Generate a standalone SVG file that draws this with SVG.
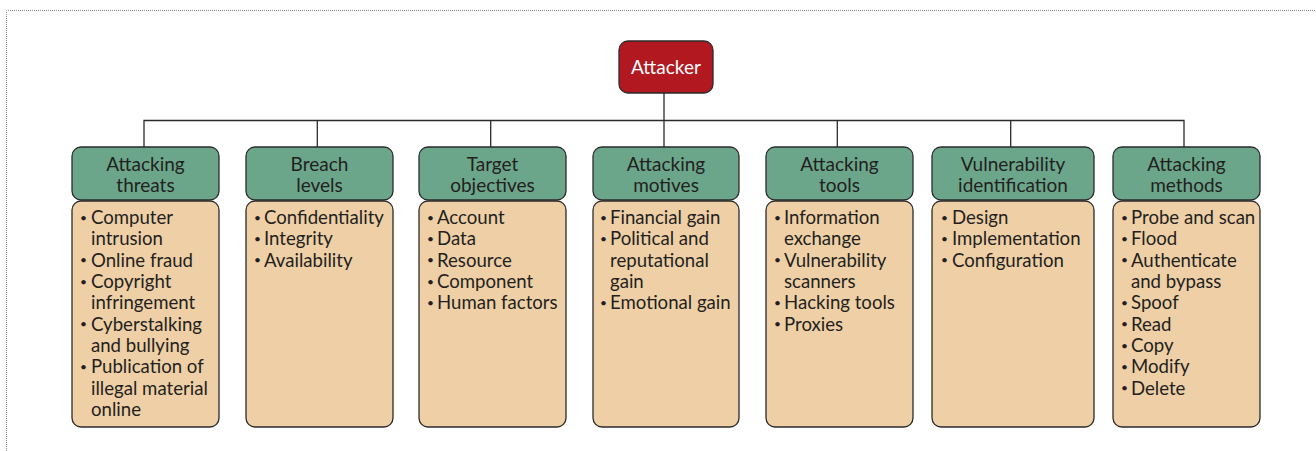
<svg xmlns="http://www.w3.org/2000/svg" width="1316" height="451" viewBox="0 0 1316 451">
<style>
.frame{fill:none;stroke:#8a8a8a;stroke-width:1;stroke-dasharray:1 1}
.conn{fill:none;stroke:#2b2b2b;stroke-width:1.3}
.root{fill:#b2181f;stroke:#2b2b2b;stroke-width:1.3}
.hdr{fill:#6ba68b;stroke:#2b2b2b;stroke-width:1.3}
.body{fill:#eecfa6;stroke:#2b2b2b;stroke-width:1.3}
text{font-family:Lato,"Noto Sans",sans-serif;font-size:18.6px;fill:#231f20}
.rt{fill:#ffffff;font-size:19px}
.ht{text-anchor:middle;font-size:19px}
.b{font-size:12px}
</style>
<rect width="1316" height="451" fill="#ffffff"/>
<path class="frame" d="M6.5 451 V10.5 H1316"/>
<g id="connectors">
<path class="conn" d="M664 93 V120.5"/>
<path class="conn" d="M144 147 V120.5 H1184 V147"/>
<path class="conn" d="M317.3 120.5 V147"/>
<path class="conn" d="M490.7 120.5 V147"/>
<path class="conn" d="M664 120.5 V147"/>
<path class="conn" d="M837.3 120.5 V147"/>
<path class="conn" d="M1010.7 120.5 V147"/>
</g>
<g id="attacker">
<rect class="root" x="619" y="41" width="94" height="52" rx="9"/>
<text class="rt" x="666" y="74" text-anchor="middle">Attacker</text>
</g>
<g id="attacking-threats">
<rect class="hdr" x="72" y="147" width="147" height="53" rx="9"/>
<text class="ht" x="145.5" y="171">Attacking</text>
<text class="ht" x="145.5" y="192">threats</text>
<rect class="body" x="72" y="201" width="147" height="226" rx="9"/>
<text class="b" x="80" y="221.5">•</text><text x="91" y="224">Computer</text>
<text x="91" y="245.3">intrusion</text>
<text class="b" x="80" y="264.1">•</text><text x="91" y="266.6">Online fraud</text>
<text class="b" x="80" y="285.5">•</text><text x="91" y="288">Copyright</text>
<text x="91" y="309.3">infringement</text>
<text class="b" x="80" y="328.1">•</text><text x="91" y="330.6">Cyberstalking</text>
<text x="91" y="352">and bullying</text>
<text class="b" x="80" y="370.8">•</text><text x="91" y="373.3">Publication of</text>
<text x="91" y="394.6">illegal material</text>
<text x="91" y="416">online</text>
</g>
<g id="breach-levels">
<rect class="hdr" x="246" y="147" width="147" height="53" rx="9"/>
<text class="ht" x="319.5" y="171">Breach</text>
<text class="ht" x="319.5" y="192">levels</text>
<rect class="body" x="246" y="201" width="147" height="226" rx="9"/>
<text class="b" x="254" y="221.5">•</text><text x="264" y="224">Confidentiality</text>
<text class="b" x="254" y="242.8">•</text><text x="264" y="245.3">Integrity</text>
<text class="b" x="254" y="264.1">•</text><text x="264" y="266.6">Availability</text>
</g>
<g id="target-objectives">
<rect class="hdr" x="419" y="147" width="147" height="53" rx="9"/>
<text class="ht" x="492.5" y="171">Target</text>
<text class="ht" x="492.5" y="192">objectives</text>
<rect class="body" x="419" y="201" width="147" height="226" rx="9"/>
<text class="b" x="427" y="221.5">•</text><text x="437" y="224">Account</text>
<text class="b" x="427" y="242.8">•</text><text x="437" y="245.3">Data</text>
<text class="b" x="427" y="264.1">•</text><text x="437" y="266.6">Resource</text>
<text class="b" x="427" y="285.5">•</text><text x="437" y="288">Component</text>
<text class="b" x="427" y="306.8">•</text><text x="437" y="309.3">Human factors</text>
</g>
<g id="attacking-motives">
<rect class="hdr" x="593" y="147" width="146" height="53" rx="9"/>
<text class="ht" x="666" y="171">Attacking</text>
<text class="ht" x="666" y="192">motives</text>
<rect class="body" x="593" y="201" width="146" height="226" rx="9"/>
<text class="b" x="600" y="221.5">•</text><text x="610" y="224">Financial gain</text>
<text class="b" x="600" y="242.8">•</text><text x="610" y="245.3">Political and</text>
<text x="610" y="266.6">reputational</text>
<text x="610" y="288">gain</text>
<text class="b" x="600" y="306.8">•</text><text x="610" y="309.3">Emotional gain</text>
</g>
<g id="attacking-tools">
<rect class="hdr" x="766" y="147" width="147" height="53" rx="9"/>
<text class="ht" x="839.5" y="171">Attacking</text>
<text class="ht" x="839.5" y="192">tools</text>
<rect class="body" x="766" y="201" width="147" height="226" rx="9"/>
<text class="b" x="774" y="221.5">•</text><text x="784" y="224">Information</text>
<text x="784" y="245.3">exchange</text>
<text class="b" x="774" y="264.1">•</text><text x="784" y="266.6">Vulnerability</text>
<text x="784" y="288">scanners</text>
<text class="b" x="774" y="306.8">•</text><text x="784" y="309.3">Hacking tools</text>
<text class="b" x="774" y="328.1">•</text><text x="784" y="330.6">Proxies</text>
</g>
<g id="vulnerability-identification">
<rect class="hdr" x="932" y="147" width="162" height="53" rx="9"/>
<text class="ht" x="1013" y="171">Vulnerability</text>
<text class="ht" x="1013" y="192">identification</text>
<rect class="body" x="932" y="201" width="162" height="226" rx="9"/>
<text class="b" x="941" y="221.5">•</text><text x="952" y="224">Design</text>
<text class="b" x="941" y="242.8">•</text><text x="952" y="245.3">Implementation</text>
<text class="b" x="941" y="264.1">•</text><text x="952" y="266.6">Configuration</text>
</g>
<g id="attacking-methods">
<rect class="hdr" x="1113" y="147" width="147" height="53" rx="9"/>
<text class="ht" x="1186.5" y="171">Attacking</text>
<text class="ht" x="1186.5" y="192">methods</text>
<rect class="body" x="1113" y="201" width="147" height="226" rx="9"/>
<text class="b" x="1121" y="221.5">•</text><text x="1131" y="224">Probe and scan</text>
<text class="b" x="1121" y="242.8">•</text><text x="1131" y="245.3">Flood</text>
<text class="b" x="1121" y="264.1">•</text><text x="1131" y="266.6">Authenticate</text>
<text x="1131" y="288">and bypass</text>
<text class="b" x="1121" y="306.8">•</text><text x="1131" y="309.3">Spoof</text>
<text class="b" x="1121" y="328.1">•</text><text x="1131" y="330.6">Read</text>
<text class="b" x="1121" y="349.5">•</text><text x="1131" y="352">Copy</text>
<text class="b" x="1121" y="370.8">•</text><text x="1131" y="373.3">Modify</text>
<text class="b" x="1121" y="392.1">•</text><text x="1131" y="394.6">Delete</text>
</g>
</svg>
